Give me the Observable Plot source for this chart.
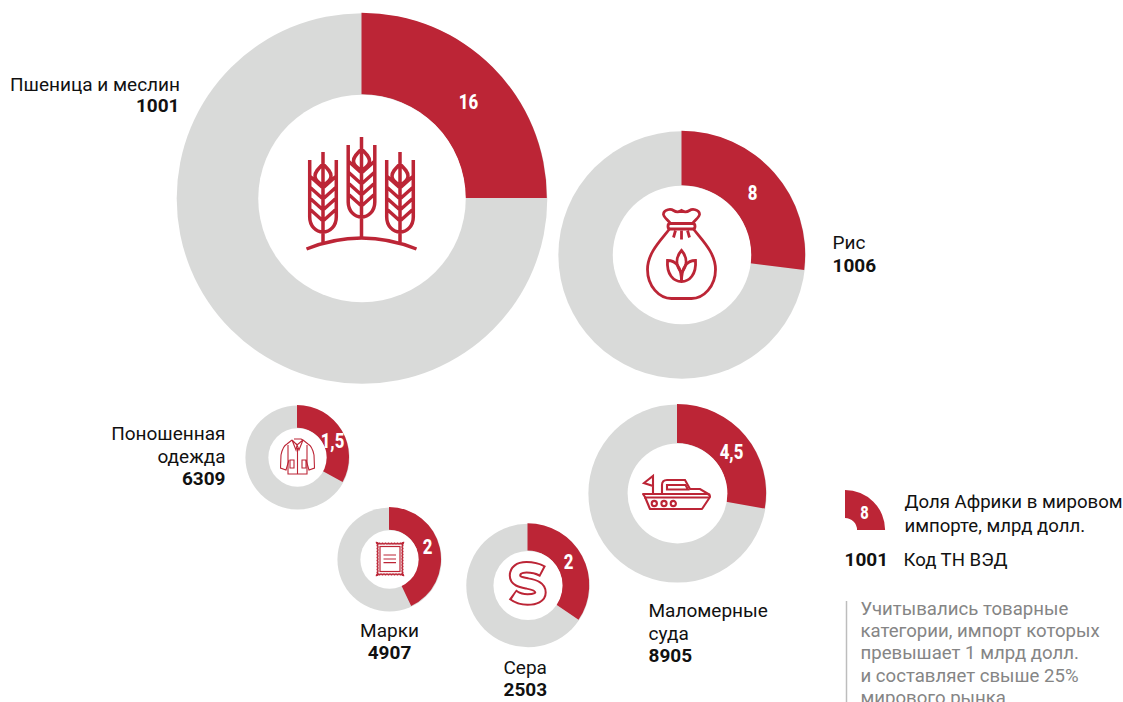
<!DOCTYPE html>
<html lang="ru">
<head>
<meta charset="utf-8">
<title>Доля Африки в мировом импорте</title>
<script src="https://cdn.jsdelivr.net/npm/d3@7"></script>
<script src="https://cdn.jsdelivr.net/npm/@observablehq/plot@0.6"></script>
<style>
  html, body { margin: 0; padding: 0; background: #fff; overflow: hidden; }
  svg { display: block; }
</style>
</head>
<body>
<div id="chart"></div>
<script>
// ---------- data ----------
const names   = ["Пшеница и меслин", "Рис", "Поношенная одежда", "Марки", "Сера", "Маломерные суда"];
const codes   = ["1001", "1006", "6309", "4907", "2503", "8905"];
const africa  = ["16", "8", "1,5", "2", "2", "4,5"];      // Africa's imports, bn USD
const shares  = [0.25, 0.27, 0.33, 0.43, 0.345, 0.278];   // Africa's share of the ring
const markets = [64, 28.5, 5.05, 5.05, 7.1, 14.8];        // world market size, drives ring area

// ---------- layout ----------
const RED = "#bc2536", GREY = "#d9dad9", NOTE = "#858585";
const centerX = [361.5, 681.5, 297, 389, 527.5, 677];
const centerY = [198, 254.5, 457, 559, 585, 493];
const valueX  = [468, 752, 332, 427, 568, 731];
const valueY  = [102, 193, 441, 547, 562, 452];
const HOLE = 0.56;

const rings = names.map((name, i) => ({
  name, code: codes[i], value: africa[i], share: shares[i], market: markets[i],
  x: centerX[i], y: centerY[i], vx: valueX[i], vy: valueY[i], hole: HOLE
}));

// One row per text line: [text, x, y, anchor]
const row = ([text, x, y, anchor]) => ({text, x, y, anchor});
const labelLines = [
  ["Пшеница и меслин", 179.5, 84, "end"],
  ["Рис", 832, 242, "start"],
  ["Поношенная", 225, 433, "end"],
  ["одежда", 225, 456, "end"],
  ["Марки", 389, 630, "middle"],
  ["Сера", 503, 667, "start"],
  ["Маломерные", 648, 610, "start"],
  ["суда", 648, 633, "start"]
].map(row);

const legendLines = [
  ["Доля Африки в мировом", 904, 502, "start"],
  ["импорте, млрд долл.", 904, 526, "start"],
  ["Код ТН ВЭД", 903, 560, "start"]
].map(row);

const codeLines = [
  ["1001", 179, 105.5, "end"],
  ["1006", 832, 265.5, "start"],
  ["6309", 225, 478, "end"],
  ["4907", 389, 652, "middle"],
  ["2503", 503, 689, "start"],
  ["8905", 648, 655.5, "start"],
  ["1001", 844, 559.5, "start"]
].map(row);

const noteLines = [
  ["Учитывались товарные", 609],
  ["категории, импорт которых", 631],
  ["превышает 1 млрд долл.", 653],
  ["и составляет свыше 25%", 676],
  ["мирового рынка", 698]
].map(([text, y]) => ({text, x: 860, y}));

const legendSector = [{x: 845, y: 530, market: 3, share: 0.25, hole: 0.3}];

// ---------- icons (drawn around each ring's centre) ----------
function ear(dx, dy) {
  let d = `M${dx},${dy - 61}V${dy + 19}` +
    `M${dx - 13.3},${dy - 53}V${dy + 4}C${dx - 13.3},${dy + 13} ${dx - 7},${dy + 19} ${dx},${dy + 19}` +
    `C${dx + 7},${dy + 19} ${dx + 13.3},${dy + 13} ${dx + 13.3},${dy + 4}V${dy - 53}` +
    `M${dx},${dy - 49}C${dx - 5},${dy - 44} ${dx - 8},${dy - 41} ${dx - 8},${dy - 37}C${dx - 8},${dy - 33} ${dx - 4},${dy - 30} ${dx},${dy - 28}` +
    `C${dx + 4},${dy - 30} ${dx + 8},${dy - 33} ${dx + 8},${dy - 37}C${dx + 8},${dy - 41} ${dx + 5},${dy - 44} ${dx},${dy - 49}`;
  for (const k of [-37, -26, -15, -4]) {
    d += `M${dx - 13.3},${dy + k}L${dx},${dy + k + 12}L${dx + 13.3},${dy + k}`;
  }
  return d;
}
function stampEdge(x0, y0, w, h, n, m) {
  const sx = w / n, sy = h / m, r = sx / 2, q = sy / 2;
  let d = `M${x0},${y0}`;
  for (let i = 0; i < n; i++) d += `a${r},${r} 0 0 0 ${sx},0`;
  for (let i = 0; i < m; i++) d += `a${q},${q} 0 0 0 0,${sy}`;
  for (let i = 0; i < n; i++) d += `a${r},${r} 0 0 0 ${-sx},0`;
  for (let i = 0; i < m; i++) d += `a${q},${q} 0 0 0 0,${-sy}`;
  return d + "Z";
}
const icons = [
  // wheat
  {stroke: 3.5, markup: `<path d="${ear(-38.5, 15)}${ear(0, 0)}${ear(38.5, 15)}M-38.5,34V44M38.5,34V44M0,19V40"/><path d="M-55,51Q0,29 55,51"/>`},
  // sack
  {stroke: 2.8, markup: `<path d="M-11,-31C-14,-35 -19,-38 -18,-41C-17,-45 -11,-46 -8,-44C-5,-42 -3,-42 0,-44C3,-42 5,-42 8,-44C11,-46 17,-45 18,-41C19,-38 14,-35 11,-31"/><rect x="-13.5" y="-31" width="27" height="5.5" rx="2.5"/><path d="M-12,-25.5C-20,-15 -34,-2 -34,15C-34,32 -22,44 -10,44H10C22,44 34,32 34,15C34,-2 20,-15 12,-25.5"/><path d="M0,-24V-15M-6,-24L-8,-17M6,-24L8,-17"/><path d="M0,-4C-6,3 -6,11 0,18C6,11 6,3 0,-4Z"/><path d="M-14,6C-6,6 0,12 0,27C-8,27 -15,20 -14,6ZM14,6C6,6 0,12 0,27C8,27 15,20 14,6Z"/>`},
  // jacket
  {stroke: 1.1, markup: `<path d="M-5,-17L-10,-13C-14,-11 -15,-7 -16,-2L-16.5,11L-11,13L-8,3M6,-17L11,-13C15,-11 16,-7 17,-2L17.5,11L12,13L9,3"/><path d="M-9,-12V17H10V-12M-5,-17L0,-12L6,-17M-3,-18H4L6,-17M-5,-17L-1,-7L0,-12L2,-7L6,-17M0.5,-9V17"/><path d="M-7,3H-3V11H-7ZM5,3H9V11H5Z"/>`},
  // stamp
  {stroke: 1.2, markup: `<path stroke-width="1.5" d="${stampEdge(-12.5, -16.5, 27, 33, 9, 11)}"/><rect x="-9" y="-12.5" width="20" height="25"/><path d="M-5.5,-4H7M-5.5,0H7M-5.5,3.7H7"/>`},
  // sulfur S: thick red stroke with a slightly shorter white core leaves a closed outline
  {stroke: 12.4, markup: `<path d="M15.5,-13.5C9,-17 4,-17.7 -1,-17.7C-9,-17.7 -12.5,-14 -12.5,-9.5C-12.5,-4 -7,-3 0,-1.5C8,0 13,2 13,7.5C13,12 8,14.5 0,14.5C-6,14.5 -11,12.5 -15,9.5"/><path stroke="#fff" stroke-width="8.4" d="M13.8,-14.5C9,-17 4,-17.7 -1,-17.7C-9,-17.7 -12.5,-14 -12.5,-9.5C-12.5,-4 -7,-3 0,-1.5C8,0 13,2 13,7.5C13,12 8,14.5 0,14.5C-6,14.5 -10,12.8 -13.4,10.6"/>`},
  // boat
  {stroke: 2.1, markup: `<g transform="translate(0,1)"><path d="M-34,0H30Q33,0 33,3L25,15H-27L-32,3Z" stroke-linejoin="round"/><path d="M-33,3.5H32"/><path d="M-15,0V-9Q-15,-14 -10,-14H8L13,-5H23L33,1"/><path d="M-10,-9H8.5L11,-4.5H-10Z"/><path d="M-24,0V-18L-33,-11L-24,-8"/><circle cx="-22.7" cy="9.5" r="2.6"/><circle cx="-13" cy="9.5" r="2.6"/><circle cx="-3.7" cy="9.5" r="2.6"/></g>`}
];

// ---------- custom renderers fed by Plot's scales ----------
function iconRender(index, scales, values) {
  const g = d3.create("svg:g");
  for (const i of index) {
    const ic = icons[i];
    g.append("g")
      .attr("transform", `translate(${values.x[i]},${values.y[i]})`)
      .attr("fill", "none").attr("stroke", RED)
      .attr("stroke-width", ic.stroke)
      .html(ic.markup);
  }
  return g.node();
}
function sectorMark(data) {
  return Plot.dot(data, {
    x: "x", y: "y", r: "market", sort: null,
    render(index, scales, channels) {
      const g = d3.create("svg:g");
      const arc = d3.arc();
      for (const i of index) {
        g.append("path")
          .attr("transform", `translate(${channels.x[i]},${channels.y[i]})`)
          .attr("fill", RED)
          .attr("d", arc({
            innerRadius: channels.r[i] * data[i].hole,
            outerRadius: channels.r[i],
            startAngle: 0,
            endAngle: 2 * Math.PI * data[i].share
          }));
      }
      return g.node();
    }
  });
}
// Condensed bold numerals: no condensed face is installed, so Plot's text is squeezed.
function squeeze(index, scales, values, dimensions, context, next) {
  const g = next(index, scales, values, dimensions, context);
  d3.select(g).selectAll("text").attr("transform", function () {
    return (this.getAttribute("transform") || "") + " scale(0.82,1)";
  });
  return g;
}
function textMarks(rows, opts) {
  return ["start", "middle", "end"].map(a => Plot.text(rows.filter(d => d.anchor === a), {
    x: "x", y: "y", text: "text", textAnchor: a, lineAnchor: "middle", ...opts
  }));
}

const chart = Plot.plot({
  width: 1123,
  height: 702,
  margin: 0,
  style: {background: "#fff", fontFamily: "Roboto, sans-serif"},
  x: {axis: null, domain: [0, 1123], range: [0, 1123]},
  y: {axis: null, domain: [0, 702], range: [0, 702]},
  r: {type: "sqrt", domain: [0, 64], range: [0, 185.3]},
  marks: [
    Plot.dot(rings, {x: "x", y: "y", r: "market", fill: GREY}),
    sectorMark(rings),
    Plot.dot(rings, {x: "x", y: "y", r: d => d.market * HOLE * HOLE, fill: "#fff"}),
    Plot.dot(rings, {x: "x", y: "y", r: 0.01, fill: "none", sort: null, render: iconRender}),
    sectorMark(legendSector),
    Plot.ruleX([846], {y1: 601, y2: 702, stroke: "#bdbdbd", strokeWidth: 1.5}),
    Plot.text(rings, {x: "vx", y: "vy", text: "value", fill: "#fff", fontSize: 20.5, fontWeight: 800, lineAnchor: "middle", render: squeeze}),
    Plot.text(["8"], {x: [864], y: [513], text: d => d, fill: "#fff", fontSize: 18, fontWeight: 800, lineAnchor: "middle", render: squeeze}),
    ...textMarks(labelLines, {fill: "#111", fontSize: 19}),
    ...textMarks(legendLines, {fill: "#111", fontSize: 18.6}),
    ...textMarks(codeLines, {fill: "#111", fontSize: 19, fontWeight: 700}),
    Plot.text(noteLines, {x: "x", y: "y", text: "text", textAnchor: "start", lineAnchor: "middle", fill: NOTE, fontSize: 18.6})
  ]
});
document.getElementById("chart").append(chart);
</script>
</body>
</html>
